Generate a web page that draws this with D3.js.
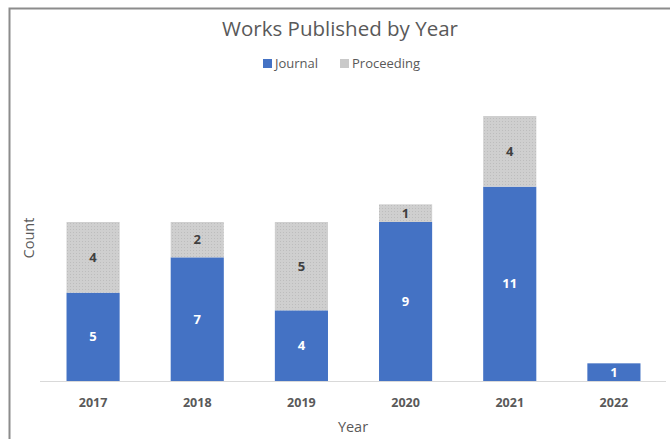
<!DOCTYPE html>
<html>
<head>
<meta charset="utf-8">
<script src="https://cdn.jsdelivr.net/npm/d3@7"></script>
<style>
  body { margin: 0; background: #fff; }
  text { font-family: "Open Sans", "Noto Sans", sans-serif; }
</style>
</head>
<body>
<div id="chart"></div>
<script>
const years = ["2017", "2018", "2019", "2020", "2021", "2022"];
const journal = [5, 7, 4, 9, 11, 1];
const proceeding = [4, 2, 5, 1, 4, 0];
const seriesNames = ["Journal", "Proceeding"];
const colors = ["#4472C4", "#C9C9C9"];

const width = 670, height = 439;
const margin = {top: 116, bottom: 58, left: 41, right: 4};

const rows = years.map((y, i) => ({Year: y, Journal: journal[i], Proceeding: proceeding[i]}));
const stacked = d3.stack().keys(seriesNames)(rows);

const svg = d3.select("#chart").append("svg")
  .attr("width", width).attr("height", height);

// frame
svg.append("rect")
  .attr("x", 9.5).attr("y", 8.5)
  .attr("width", 700).attr("height", 500)
  .attr("fill", "none").attr("stroke", "#8c8c8c").attr("stroke-width", 2);

const defs = svg.append("defs");
const pat = defs.append("pattern")
  .attr("id", "dots").attr("width", 3).attr("height", 3)
  .attr("patternUnits", "userSpaceOnUse");
pat.append("rect").attr("width", 3).attr("height", 3).attr("fill", "#CFCFCF");
pat.append("rect").attr("x", 1).attr("y", 1).attr("width", 1).attr("height", 1).attr("fill", "#BDBDBD");

const x = d3.scaleBand()
  .domain(years)
  .range([margin.left, width - margin.right])
  .paddingInner(0.49).paddingOuter(0.245);

const y = d3.scaleLinear()
  .domain([0, 15])
  .range([height - margin.bottom, margin.top]);

const baseY = y(0);

// baseline
svg.append("line")
  .attr("x1", 40).attr("x2", 666)
  .attr("y1", baseY + 0.5).attr("y2", baseY + 0.5)
  .attr("stroke", "#d9d9d9").attr("stroke-width", 1);

const layers = svg.selectAll(".layer")
  .data(stacked)
  .enter().append("g")
  .attr("class", "layer")
  .attr("fill", (d, i) => i === 1 ? "url(#dots)" : colors[i]);

layers.selectAll("rect")
  .data(d => d)
  .enter().append("rect")
  .attr("x", d => x(d.data.Year))
  .attr("width", x.bandwidth())
  .attr("y", d => y(d[1]))
  .attr("height", d => y(d[0]) - y(d[1]));

layers.selectAll(".val-label")
  .data((d, i) => d.map(v => ({v, i})))
  .enter().append("text")
  .filter(d => d.v[1] - d.v[0] > 0)
  .attr("class", "val-label")
  .attr("x", d => x(d.v.data.Year) + x.bandwidth() / 2)
  .attr("y", d => (y(d.v[0]) + y(d.v[1])) / 2)
  .attr("dy", "0.35em")
  .attr("text-anchor", "middle")
  .attr("font-size", 13)
  .attr("font-weight", "bold")
  .attr("fill", d => d.i === 0 ? "#ffffff" : "#404040")
  .text(d => d.v[1] - d.v[0]);

// x axis labels
const xAxis = d3.axisBottom(x).tickSize(0).tickPadding(17);
const gx = svg.append("g")
  .attr("transform", "translate(0," + baseY + ")")
  .call(xAxis);
gx.select(".domain").remove();
gx.selectAll("text")
  .attr("font-family", "'Open Sans', sans-serif")
  .attr("font-size", 12.5)
  .attr("font-weight", "bold")
  .attr("fill", "#595959");

// axis titles
svg.append("text")
  .attr("x", 353).attr("y", 432)
  .attr("text-anchor", "middle")
  .attr("font-size", 14.5).attr("fill", "#595959")
  .text("Year");

svg.append("text")
  .attr("transform", "translate(34,238) rotate(-90)")
  .attr("text-anchor", "middle")
  .attr("font-size", 14.5).attr("fill", "#595959")
  .text("Count");

// title
svg.append("text")
  .attr("x", 340).attr("y", 36)
  .attr("text-anchor", "middle")
  .attr("font-size", 20.5).attr("fill", "#595959")
  .text("Works Published by Year");

// legend
const legendX = [263, 340];
const legend = svg.selectAll(".legend")
  .data(seriesNames)
  .enter().append("g")
  .attr("class", "legend")
  .attr("transform", (d, i) => "translate(" + legendX[i] + ",59)");
legend.append("rect")
  .attr("width", 9).attr("height", 9)
  .attr("fill", (d, i) => colors[i]);
legend.append("text")
  .attr("x", 12).attr("y", 9)
  .attr("font-size", 13).attr("fill", "#595959")
  .text(d => d);
</script>
</body>
</html>
